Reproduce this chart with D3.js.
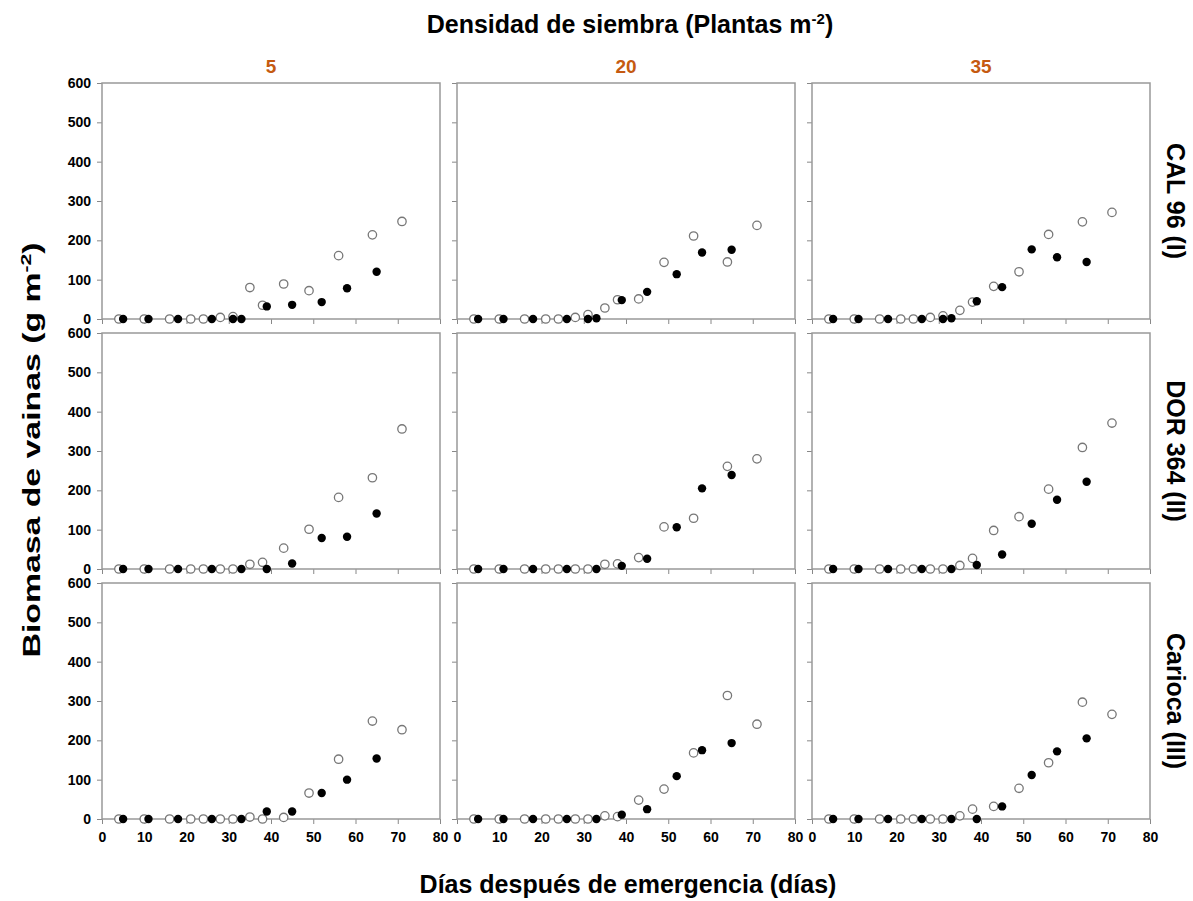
<!DOCTYPE html>
<html>
<head>
<meta charset="utf-8">
<script src="https://cdn.jsdelivr.net/npm/d3@7"></script>
<style>
  body { margin: 0; background: #fff; }
  text { font-family: "Liberation Sans", Arial, sans-serif; font-weight: bold; }
  .tick line { stroke: #888; }
  .tick text { fill: #000; font-size: 14px; font-weight: bold; }
</style>
</head>
<body>
<div id="chart"></div>
<script>
// days of sampling for each series
var openDays = [4, 10, 16, 21, 24, 28, 31, 35, 38, 43, 49, 56, 64, 71];
var filledDays = [5, 11, 18, 26, 31, 33, 39, 45, 52, 58, 65];

var densities = ["5", "20", "35"];
var cultivars = ["CAL 96 (I)", "DOR 364 (II)", "Carioca (III)"];
var yTicks = [0, 100, 200, 300, 400, 500, 600];
var xTicks = [0, 10, 20, 30, 40, 50, 60, 70, 80];

// pod biomass (g m-2), open and filled circles, per cultivar x density
var cal96_5_open = [0, 0, 0, 0, 0, 4, 6, 80, 35, 89, 72, 161, 214, 248];
var cal96_5_filled = [0, 0, 0, 0, 0, 0, 32, 36, 43, 78, 120];
var cal96_20_open = [0, 0, 0, 0, 0, 4, 11, 28, 49, 51, 144, 211, 145, 238];
var cal96_20_filled = [0, 0, 0, 0, 0, 2, 48, 69, 114, 169, 176];
var cal96_35_open = [0, 0, 0, 0, 0, 4, 8, 22, 43, 83, 120, 215, 247, 271];
var cal96_35_filled = [0, 0, 0, 0, 0, 2, 45, 81, 177, 157, 145];

var dor_5_open = [0, 0, 0, 0, 0, 0, 0, 12, 17, 53, 101, 182, 232, 356];
var dor_5_filled = [0, 0, 0, 0, null, 0, 0, 14, 79, 82, 141];
var dor_20_open = [0, 0, 0, 0, 0, 0, 0, 12, 13, 29, 107, 129, 261, 280];
var dor_20_filled = [0, 0, 0, 0, null, 0, 8, 26, 106, 205, 239];
var dor_35_open = [0, 0, 0, 0, 0, 0, 0, 9, 27, 98, 133, 203, 309, 371];
var dor_35_filled = [0, 0, 0, 0, null, 0, 10, 37, 115, 176, 222];

var car_5_open = [0, 0, 0, 0, 0, 0, 0, 5, 0, 4, 66, 152, 249, 227];
var car_5_filled = [0, 0, 0, 0, null, 0, 19, 19, 66, 100, 154];
var car_20_open = [0, 0, 0, 0, 0, 0, 0, 8, 6, 48, 76, 168, 314, 241];
var car_20_filled = [0, 0, 0, 0, null, 0, 11, 25, 109, 175, 193];
var car_35_open = [0, 0, 0, 0, 0, 0, 0, 8, 25, 32, 78, 143, 297, 266];
var car_35_filled = [0, 0, 0, 0, null, 0, 0, 32, 112, 172, 205];

// rows = cultivars, cols = densities
var panels = [
    [[cal96_5_open, cal96_5_filled], [cal96_20_open, cal96_20_filled], [cal96_35_open, cal96_35_filled]],
    [[dor_5_open, dor_5_filled], [dor_20_open, dor_20_filled], [dor_35_open, dor_35_filled]],
    [[car_5_open, car_5_filled], [car_20_open, car_20_filled], [car_35_open, car_35_filled]]
];

var svgWidth = 1193;
var svgHeight = 901;

var margin = { top: 83, left: 102 };
var pw = 338, ph = 236;   // panel size
var gapX = 17, gapY = 14;

var svg = d3.select("#chart")
    .append("svg")
    .attr("width", svgWidth)
    .attr("height", svgHeight);

var xScale = d3.scaleLinear().domain([0, 80]).range([0, pw]);
var yScale = d3.scaleLinear().domain([0, 600]).range([ph, 0]);

panels.forEach(function(row, r) {
    row.forEach(function(cell, c) {
        var g = svg.append("g")
            .attr("transform", `translate(${margin.left + c * (pw + gapX)}, ${margin.top + r * (ph + gapY)})`);

        // y axis
        var yAxis = d3.axisLeft(yScale).tickValues(yTicks).tickSize(5).tickPadding(6);
        if (c > 0) yAxis.tickFormat("");
        var ya = g.append("g").call(yAxis);
        ya.select(".domain").remove();

        // x axis
        var xAxis = d3.axisBottom(xScale).tickValues(xTicks).tickSize(5).tickPadding(8);
        if (r < 2) xAxis.tickFormat("");
        var xa = g.append("g").attr("transform", `translate(0, ${ph})`).call(xAxis);
        xa.select(".domain").remove();

        // frame
        g.append("rect")
            .attr("width", pw)
            .attr("height", ph)
            .attr("fill", "none")
            .attr("stroke", "#999")
            .attr("stroke-width", 1.5);

        var openPts = openDays.map((d, i) => ({ x: d, y: cell[0][i] })).filter(d => d.y != null);
        var filledPts = filledDays.map((d, i) => ({ x: d, y: cell[1][i] })).filter(d => d.y != null);

        g.selectAll("circle.open")
            .data(openPts)
            .enter()
            .append("circle")
            .attr("class", "open")
            .attr("cx", d => xScale(d.x))
            .attr("cy", d => yScale(d.y))
            .attr("r", 4.2)
            .attr("fill", "#fff")
            .attr("stroke", "#777")
            .attr("stroke-width", 1.3);

        g.selectAll("circle.filled")
            .data(filledPts)
            .enter()
            .append("circle")
            .attr("class", "filled")
            .attr("cx", d => xScale(d.x))
            .attr("cy", d => yScale(d.y))
            .attr("r", 4.2)
            .attr("fill", "#000");
    });
});

// column titles (densities)
densities.forEach(function(d, c) {
    svg.append("text")
        .attr("x", margin.left + c * (pw + gapX) + pw / 2)
        .attr("y", 73)
        .attr("text-anchor", "middle")
        .attr("font-size", 19)
        .attr("fill", "#c55a11")
        .text(d);
});

// row titles (cultivars)
cultivars.forEach(function(d, r) {
    var cy = margin.top + r * (ph + gapY) + ph / 2;
    svg.append("text")
        .attr("transform", `translate(1167, ${cy}) rotate(90)`)
        .attr("text-anchor", "middle")
        .attr("font-size", 25)
        .attr("fill", "#000")
        .text(d);
});

// top title
var title = svg.append("text")
    .attr("x", 630)
    .attr("y", 33)
    .attr("text-anchor", "middle")
    .attr("font-size", 25)
    .text("Densidad de siembra (Plantas m");
title.append("tspan").attr("font-size", 15).attr("dy", -9).text("-2");
title.append("tspan").attr("dy", 9).text(")");

// x title
svg.append("text")
    .attr("x", 628)
    .attr("y", 893)
    .attr("text-anchor", "middle")
    .attr("font-size", 25)
    .text("Días después de emergencia (días)");

// y title
var yTitle = svg.append("text")
    .attr("transform", `translate(40, 450) rotate(-90)`)
    .attr("text-anchor", "middle")
    .attr("font-size", 24)
    .attr("textLength", 415)
    .attr("lengthAdjust", "spacingAndGlyphs")
    .text("Biomasa de vainas (g m");
yTitle.append("tspan").attr("font-size", 15).attr("dy", -9).text("-2");
yTitle.append("tspan").attr("dy", 9).text(")");
</script>
</body>
</html>
